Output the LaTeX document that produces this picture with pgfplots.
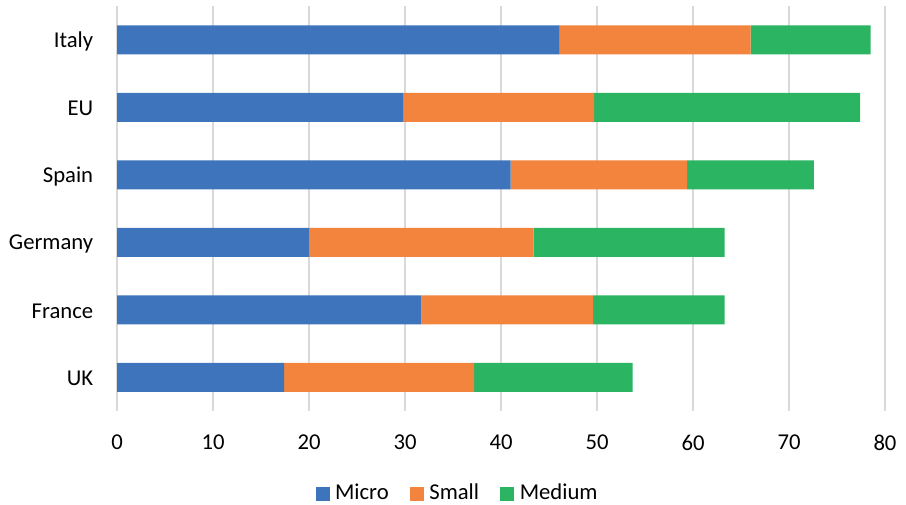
\documentclass[border=0pt]{standalone}
\usepackage{pgfplots}
\pgfplotsset{compat=1.18}
\usepackage{fontspec}
\setmainfont{Carlito}
\definecolor{cMicro}{HTML}{3E74BB}
\definecolor{cSmall}{HTML}{F2843D}
\definecolor{cMedium}{HTML}{2BB461}
\definecolor{cGrid}{HTML}{D9D9D9}
\begin{document}
\fontsize{17}{20}\selectfont
\begin{tikzpicture}
\begin{axis}[
  at={(0,0)}, anchor=south west,
  scale only axis,
  width=576pt, height=303.75pt,
  xbar stacked,
  bar width=21.75pt,
  xmin=0, xmax=80,
  ymin=-0.5, ymax=5.5,
  xtick={0,10,...,80},
  ytick={0,1,2,3,4,5},
  yticklabels={UK,France,Germany,Spain,EU,Italy},
  xmajorgrids=true,
  grid style={cGrid, line width=1.1pt},
  axis line style={draw=none},
  major tick length=0pt,
  /pgf/number format/assume math mode=true,
  tick label style={font=\fontsize{17}{20}\selectfont},
  xticklabel style={yshift=-12pt},
  yticklabel style={xshift=-12pt, yshift=-1pt},
  legend style={at={(axis description cs:0.444,-0.204)}, anchor=center, draw=none,
    font=\fontsize{17}{20}\selectfont,
    /tikz/every even column/.append style={column sep=14pt}},
  legend columns=3,
  legend image code/.code={\fill[#1] (0pt,-5.2pt) rectangle (10.5pt,5.2pt);},
  legend cell align=left,
]
\addplot[fill=cMicro, draw=none] coordinates {(17.4,0) (31.7,1) (20.0,2) (41.0,3) (29.8,4) (46.1,5)};
\addplot[fill=cSmall, draw=none] coordinates {(19.8,0) (17.9,1) (23.4,2) (18.4,3) (19.9,4) (19.9,5)};
\addplot[fill=cMedium, draw=none] coordinates {(16.5,0) (13.7,1) (19.9,2) (13.2,3) (27.7,4) (12.5,5)};
\legend{\hspace{2pt}Micro,\hspace{2pt}Small,\hspace{2pt}Medium}
\end{axis}
\pgfresetboundingbox
\path[use as bounding box] (-87.75pt,-69.75pt) rectangle (591.75pt,308.25pt);
\end{tikzpicture}
\end{document}
